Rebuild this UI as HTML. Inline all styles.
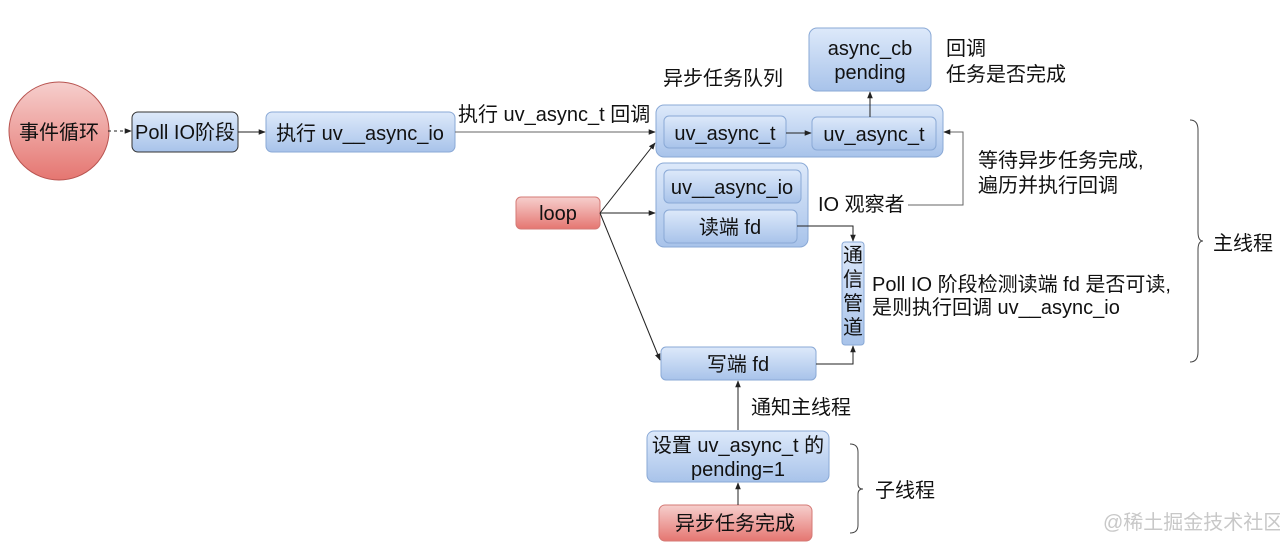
<!DOCTYPE html>
<html><head><meta charset="utf-8"><style>
html,body{margin:0;padding:0;background:#fff;}
svg text{font-family:"Liberation Sans","Noto Sans CJK SC",sans-serif;font-size:20px;fill:#111;}
</style></head><body>
<svg width="1280" height="550" viewBox="0 0 1280 550" xmlns="http://www.w3.org/2000/svg">
<defs>
<linearGradient id="b" x1="0" y1="0" x2="0" y2="1"><stop offset="0" stop-color="#dde9fa"/><stop offset="1" stop-color="#a8c3ea"/></linearGradient>
<linearGradient id="r" x1="0" y1="0" x2="0" y2="1"><stop offset="0" stop-color="#f6cfcd"/><stop offset="1" stop-color="#e57671"/></linearGradient>
<marker id="a" viewBox="0 0 10 10" refX="9" refY="5" markerWidth="7" markerHeight="7" orient="auto"><path d="M0,1 L10,5 L0,9 z" fill="#222"/></marker>
</defs>
<ellipse cx="59" cy="131" rx="50" ry="49" fill="url(#r)" stroke="#b85450"/>
<rect x="132" y="112" width="106" height="40" rx="6" fill="url(#b)" stroke="#333"/>
<rect x="266" y="112" width="189" height="40" rx="6" fill="url(#b)" stroke="#8aa9d6"/>
<rect x="656" y="105" width="287" height="52" rx="8" fill="url(#b)" stroke="#8aa9d6"/>
<rect x="664" y="116" width="122" height="32" rx="5" fill="url(#b)" stroke="#8aa9d6"/>
<rect x="812" y="117" width="124" height="33" rx="5" fill="url(#b)" stroke="#8aa9d6"/>
<rect x="809" y="28" width="122" height="63" rx="8" fill="url(#b)" stroke="#8aa9d6"/>
<rect x="656" y="163" width="152" height="84" rx="8" fill="url(#b)" stroke="#8aa9d6"/>
<rect x="664" y="170" width="137" height="33" rx="5" fill="url(#b)" stroke="#8aa9d6"/>
<rect x="664" y="210" width="133" height="33" rx="5" fill="url(#b)" stroke="#8aa9d6"/>
<rect x="516" y="197" width="84" height="32" rx="5" fill="url(#r)" stroke="#d47a76"/>
<rect x="842" y="242" width="22" height="103" rx="3" fill="url(#b)" stroke="#8aa9d6"/>
<rect x="661" y="347" width="155" height="33" rx="5" fill="url(#b)" stroke="#8aa9d6"/>
<rect x="647" y="431" width="182" height="51" rx="7" fill="url(#b)" stroke="#8aa9d6"/>
<rect x="659" y="505" width="153" height="36" rx="6" fill="url(#r)" stroke="#d47a76"/>
<g stroke="#222" stroke-width="1" fill="none">
<line x1="108" y1="131" x2="131" y2="131" stroke-dasharray="3,3" marker-end="url(#a)"/>
<line x1="238" y1="132" x2="265" y2="132" marker-end="url(#a)"/>
<line x1="455" y1="132" x2="655" y2="132" stroke="#666" marker-end="url(#a)"/>
<line x1="600" y1="213" x2="655" y2="143" marker-end="url(#a)"/>
<line x1="600" y1="213" x2="655" y2="213" marker-end="url(#a)"/>
<line x1="600" y1="213" x2="660" y2="360" marker-end="url(#a)"/>
<line x1="786" y1="133" x2="811" y2="133" marker-end="url(#a)"/>
<line x1="870" y1="117" x2="870" y2="92" marker-end="url(#a)"/>
<polyline points="908,205 963,205 963,132 944,132" stroke="#666" marker-end="url(#a)"/>
<polyline points="797,226 853,226 853,241" marker-end="url(#a)"/>
<polyline points="816,364 853,364 853,346" marker-end="url(#a)"/>
<line x1="738" y1="430" x2="738" y2="381" marker-end="url(#a)"/>
<line x1="738" y1="505" x2="738" y2="483" marker-end="url(#a)"/>
<path d="M1190,120 Q1198,120 1198,130 L1198,232 Q1198,241 1203,241 Q1198,241 1198,250 L1198,352 Q1198,362 1190,362" stroke="#444"/>
<path d="M850,444 Q858,444 858,452 L858,484 Q858,489 863,489 Q858,489 858,494 L858,525 Q858,533 850,533" stroke="#444"/>
</g>
<text x="59" y="139" text-anchor="middle" font-size="21">事件循环</text>
<text x="185" y="139" text-anchor="middle">Poll IO阶段</text>
<text x="360" y="140" text-anchor="middle">执行 uv__async_io</text>
<text x="458" y="121">执行 uv_async_t 回调</text>
<text x="663" y="85">异步任务队列</text>
<text x="725" y="140" text-anchor="middle">uv_async_t</text>
<text x="874" y="141" text-anchor="middle">uv_async_t</text>
<text x="870" y="55" text-anchor="middle">async_cb</text>
<text x="870" y="79" text-anchor="middle">pending</text>
<text x="946" y="55">回调</text>
<text x="946" y="81">任务是否完成</text>
<text x="732" y="194" text-anchor="middle">uv__async_io</text>
<text x="730" y="234" text-anchor="middle">读端 fd</text>
<text x="818" y="211">IO 观察者</text>
<text x="978" y="167">等待异步任务完成,</text>
<text x="978" y="192">遍历并执行回调</text>
<text x="558" y="220" text-anchor="middle">loop</text>
<text x="853" y="262" text-anchor="middle">通</text>
<text x="853" y="286" text-anchor="middle">信</text>
<text x="853" y="310" text-anchor="middle">管</text>
<text x="853" y="334" text-anchor="middle">道</text>
<text x="872" y="291">Poll IO 阶段检测读端 fd 是否可读,</text>
<text x="872" y="314">是则执行回调 uv__async_io</text>
<text x="1213" y="250">主线程</text>
<text x="738" y="371" text-anchor="middle">写端 fd</text>
<text x="751" y="414">通知主线程</text>
<text x="738" y="452" text-anchor="middle">设置 uv_async_t 的</text>
<text x="738" y="476" text-anchor="middle">pending=1</text>
<text x="735" y="530" text-anchor="middle">异步任务完成</text>
<text x="875" y="497">子线程</text>
<text x="1103" y="529" font-size="16" style="fill:#c8c8c8">@稀土掘金技术社区</text>
</svg>
</body></html>
